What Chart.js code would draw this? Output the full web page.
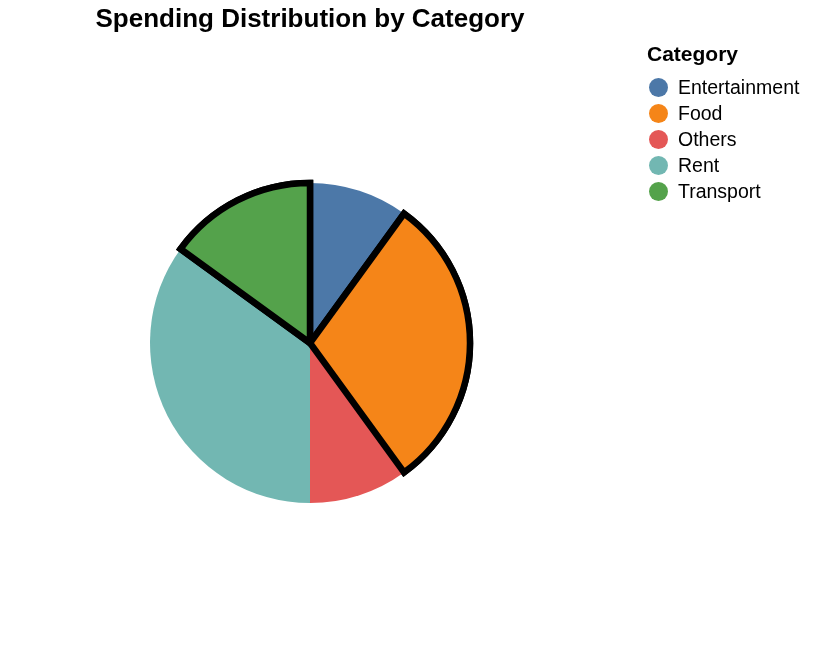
<!DOCTYPE html>
<html>
<head>
<meta charset="utf-8">
<script src="https://cdn.jsdelivr.net/npm/chart.js@4/dist/chart.umd.min.js"></script>
<style>
  html, body { margin: 0; padding: 0; background: #fff; }
  #wrap { width: 814px; height: 654px; }
</style>
</head>
<body>
<div id="wrap"><canvas id="pie"></canvas></div>
<script>
// data
const categories = ['Entertainment', 'Food', 'Others', 'Rent', 'Transport'];
const spending = [10, 30, 10, 35, 15];
const highlighted = [false, true, false, false, true];
const colours = ['#4c78a8', '#f58518', '#e45756', '#72b7b2', '#54a24b'];

const FONT = '"Liberation Sans", Arial, Helvetica, sans-serif';

// redraw highlighted slices last so their black outline sits on top of neighbours
const outlineOnTop = {
    id: 'outlineOnTop',
    afterDatasetsDraw(chart) {
        const meta = chart.getDatasetMeta(0);
        meta.data.forEach((arc, i) => {
            if (highlighted[i]) arc.draw(chart.ctx);
        });
    }
};

// legend drawn by hand so it lines up with the original
const sideLegend = {
    id: 'sideLegend',
    afterDraw(chart) {
        const ctx = chart.ctx;
        ctx.save();
        ctx.textBaseline = 'middle';
        ctx.textAlign = 'left';
        ctx.fillStyle = '#000';
        ctx.font = 'bold 21px ' + FONT;
        ctx.fillText('Category', 647, 55);
        ctx.font = '19.5px ' + FONT;
        categories.forEach((name, i) => {
            const y = 87.5 + i * 26;
            ctx.beginPath();
            ctx.arc(658.5, y, 9.5, 0, Math.PI * 2);
            ctx.fillStyle = colours[i];
            ctx.fill();
            ctx.fillStyle = '#000';
            ctx.fillText(name, 678, y + 1);
        });
        ctx.restore();
    }
};

new Chart(document.getElementById('pie'), {
    type: 'pie',
    data: {
        labels: categories,
        datasets: [{
            data: spending,
            backgroundColor: colours,
            borderColor: '#000',
            borderWidth: highlighted.map(h => h ? 6.5 : 0),
            borderJoinStyle: 'miter',
            hoverOffset: 0
        }]
    },
    options: {
        responsive: true,
        maintainAspectRatio: false,
        animation: false,
        radius: 160,
        layout: { padding: { top: 0, left: 0, right: 194, bottom: 8 } },
        plugins: {
            legend: { display: false },
            tooltip: { enabled: false },
            title: {
                display: true,
                fullSize: false,
                text: 'Spending Distribution by Category',
                color: '#000',
                font: { family: FONT, size: 26, weight: 'bold' },
                padding: { top: 4.4, bottom: 4.4 }
            }
        }
    },
    plugins: [outlineOnTop, sideLegend]
});
</script>
</body>
</html>
